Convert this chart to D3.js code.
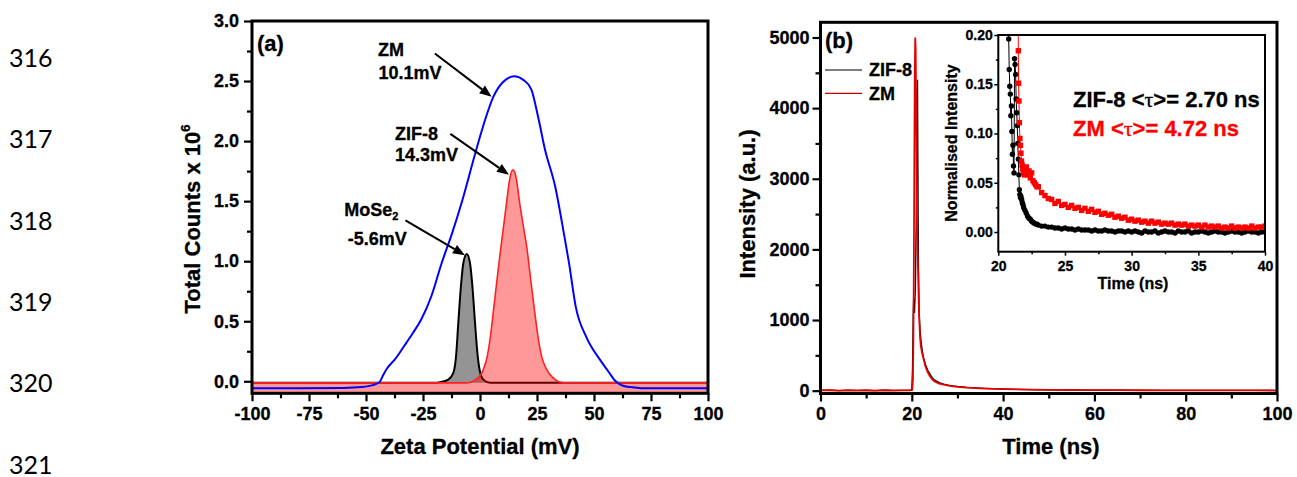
<!DOCTYPE html>
<html>
<head>
<meta charset="utf-8">
<script src="https://cdn.jsdelivr.net/npm/d3@7"></script>
<style>
  body { margin: 0; background: #fff; }
  svg { display: block; font-family: "Liberation Sans", Arial, sans-serif; }
</style>
</head>
<body>
<svg id="fig" width="1297" height="477"></svg>
<script>
// ---- data ----
var lineNumbers = ["316", "317", "318", "319", "320", "321"];

// (a) zeta potential, mV vs total counts x 10^6
var zetaTicks = [-100, -75, -50, -25, 0, 25, 50, 75, 100];
var countTicks = [0, 0.5, 1.0, 1.5, 2.0, 2.5, 3.0];
var zetaZM = [[-100,-0.058],[-80,-0.058],[-60,-0.055],[-52,-0.048],[-47,-0.032],[-44,-0.005],[-42.5,0.05],
  [-41,0.10],[-37,0.19],[-33.4,0.29],[-29.5,0.40],[-25.9,0.51],[-21.3,0.71],[-16.8,0.985],[-12.3,1.23],[-7.7,1.51],
  [-2.5,1.87],[1.3,2.12],[5.9,2.37],[10,2.49],[15,2.54],[19,2.51],[22.5,2.43],[25.5,2.20],[28.5,1.93],
  [33,1.62],[36.8,1.23],[39,0.99],[42,0.62],[46.6,0.37],[52.6,0.18],[56,0.09],[59.5,0.0],[63,-0.04],
  [68,-0.052],[72,-0.058],[100,-0.058]];
var zetaZIF8 = [[-100,-0.013],[-5.8,-0.013],[-0.7,0.03],[1.5,0.10],[3.2,0.21],[4.4,0.35],[6.1,0.62],
  [7.8,0.90],[9.2,1.12],[10.4,1.30],[11.8,1.51],[13,1.68],[14.5,1.76],[16,1.68],[17.2,1.51],[19.5,1.235],
  [20.5,1.12],[21.9,0.90],[23.7,0.62],[25.6,0.35],[27,0.21],[29.2,0.10],[32,0.03],[36.5,-0.013],[100,-0.013]];
var zetaMoSe2 = [[-100,-0.013],[-20,-0.013],[-17.5,-0.008],[-13.9,0.014],[-11.7,0.07],[-10.5,0.21],
  [-9.5,0.49],[-8.5,0.76],[-7.3,0.985],[-5.8,1.06],[-4.4,0.985],[-3.2,0.76],[-2.2,0.49],[-1,0.21],
  [0,0.08],[1.5,0.014],[4.4,-0.013],[35,-0.013],[100,-0.013]];

// (b) decay, ns vs counts
var timeTicks = [0, 20, 40, 60, 80, 100];
var intensityTicks = [0, 1000, 2000, 3000, 4000, 5000];
var decayZIF8 = [[0,3],[2,6],[4,1],[6,5],[8,2],[10,4],[12,1],[14,6],[16,2],[18,4],[19.5,3],[20.0,20],
  [20.15,300],[20.3,1050],[20.4,1300],[20.5,1200],[20.6,1100],[20.8,1500],[21.0,2600],[21.15,3700],
  [21.25,4400],[21.35,3000],[21.45,1800],[21.6,1150],[21.8,870],[22.0,720],[22.3,560],[22.6,460],
  [23.0,370],[23.5,290],[24.0,230],[24.5,185],[25,150],[26,115],[27,92],[28,78],[29,68],[30,60],
  [32,48],[34,40],[36,33],[38,28],[40,24],[43,19],[46,15],[50,12],[55,9],[60,7],[65,6],[70,5],
  [75,4],[80,4],[85,3],[90,3],[95,3],[100,2]];
var decayZM = [[0,4],[2,9],[4,2],[6,7],[8,3],[10,6],[12,2],[14,8],[16,3],[18,5],[19.5,4],[20.1,10],
  [20.25,150],[20.35,700],[20.45,1800],[20.55,3200],[20.65,4500],[20.75,5000],[20.85,4850],[20.95,4000],
  [21.05,3000],[21.15,2300],[21.3,1900],[21.45,1450],[21.6,1050],[21.8,760],[22.0,620],[22.3,520],
  [22.6,440],[23.0,340],[23.5,260],[24.0,200],[24.5,160],[25,130],[26,100],[27,85],[28,72],[29,62],
  [30,54],[32,44],[34,36],[36,30],[38,26],[40,22],[43,18],[46,15],[50,12],[55,10],[60,8],[65,7],
  [70,6],[75,5],[80,5],[85,4],[90,4],[95,3],[100,3]];

// (b) inset, normalised
var insetTimeTicks = [20, 25, 30, 35, 40];
var insetIntTicks = [0, 0.05, 0.10, 0.15, 0.20];
var insetZIF8 = [[20.70,0.420],[20.78,0.196],[20.82,0.165],[20.86,0.148],[20.90,0.140],[20.94,0.118],
  [20.98,0.128],[21.02,0.102],[21.06,0.079],[21.10,0.088],[21.14,0.067],[21.18,0.060],[21.22,0.176],
  [21.26,0.170],[21.30,0.160],[21.34,0.135],[21.38,0.121],[21.42,0.108],[21.46,0.090],[21.50,0.074],
  [21.54,0.058],[21.58,0.043],[21.62,0.038],[21.66,0.035],[21.70,0.036],[21.75,0.033],[21.80,0.030],
  [21.85,0.028],[21.90,0.025],[22.00,0.022],[22.10,0.019],[22.20,0.016],[22.30,0.014],[22.40,0.013],
  [22.50,0.011],[22.60,0.010],[22.70,0.009],[22.80,0.008],[22.90,0.008],
  [23.0,0.007],[23.25,0.006],[23.5,0.006],[23.75,0.005],[24.0,0.005],[24.25,0.004],[24.5,0.004],
  [24.75,0.003],[25.0,0.004],[25.25,0.003],[25.5,0.003],[25.75,0.002],[26.0,0.003],[26.25,0.002],
  [26.5,0.002],[26.75,0.002],[27.0,0.001],[27.25,0.002],[27.5,0.001],[27.75,0.001],[28.0,0.002],
  [28.25,0.001],[28.5,0.001],[28.75,0.000],[29.0,0.001],[29.25,0.001],[29.5,0.000],[29.75,0.001],
  [30.0,0.000],[30.25,0.001],[30.5,0.000],[30.75,-0.001],[31.0,0.001],[31.25,0.000],[31.5,0.000],
  [31.75,0.001],[32.0,-0.001],[32.25,0.000],[32.5,0.001],[32.75,0.000],[33.0,0.000],[33.25,-0.001],
  [33.5,0.001],[33.75,0.000],[34.0,0.000],[34.25,0.001],[34.5,-0.001],[34.75,0.000],[35.0,0.000],
  [35.25,0.001],[35.5,0.000],[35.75,-0.001],[36.0,0.000],[36.25,0.001],[36.5,0.000],[36.75,0.000],
  [37.0,-0.001],[37.25,0.000],[37.5,0.001],[37.75,0.000],[38.0,0.000],[38.25,-0.001],[38.5,0.000],
  [38.75,0.001],[39.0,0.000],[39.25,0.000],[39.5,-0.001],[39.75,0.000],[40.0,0.000]];
var insetZM = [[21.40,0.450],[21.50,0.184],[21.52,0.151],[21.55,0.133],[21.58,0.111],[21.62,0.095],
  [21.66,0.088],[21.70,0.080],[21.74,0.072],[21.78,0.068],[21.82,0.064],[21.86,0.066],[21.90,0.060],
  [21.95,0.058],[22.0,0.063],[22.1,0.066],[22.2,0.058],[22.3,0.062],[22.4,0.055],[22.5,0.060],
  [22.6,0.052],[22.7,0.050],[22.8,0.048],[22.9,0.046],
  [23.0,0.046],[23.25,0.040],[23.5,0.037],[23.75,0.034],[24.0,0.033],[24.25,0.029],[24.5,0.031],
  [24.75,0.027],[25.0,0.028],[25.25,0.025],[25.5,0.027],[25.75,0.024],[26.0,0.025],[26.25,0.022],
  [26.5,0.024],[26.75,0.021],[27.0,0.023],[27.25,0.020],[27.5,0.021],[27.75,0.018],[28.0,0.019],
  [28.25,0.017],[28.5,0.018],[28.75,0.015],[29.0,0.016],[29.25,0.014],[29.5,0.015],[29.75,0.012],
  [30.0,0.013],[30.25,0.011],[30.5,0.012],[30.75,0.010],[31.0,0.011],[31.25,0.009],[31.5,0.011],
  [31.75,0.009],[32.0,0.010],[32.25,0.008],[32.5,0.009],[32.75,0.008],[33.0,0.009],[33.25,0.007],
  [33.5,0.008],[33.75,0.007],[34.0,0.008],[34.25,0.006],[34.5,0.007],[34.75,0.006],[35.0,0.007],
  [35.25,0.005],[35.5,0.007],[35.75,0.005],[36.0,0.006],[36.25,0.005],[36.5,0.006],[36.75,0.004],
  [37.0,0.005],[37.25,0.004],[37.5,0.006],[37.75,0.004],[38.0,0.005],[38.25,0.004],[38.5,0.005],
  [38.75,0.004],[39.0,0.006],[39.25,0.004],[39.5,0.005],[39.75,0.005],[40.0,0.006]];

var svg = d3.select("#fig");
var FONT = '"Liberation Sans", Arial, sans-serif';

// left margin line numbers (manuscript)
svg.selectAll("text.ln").data(lineNumbers).enter().append("text")
  .attr("class", "ln")
  .attr("x", 9)
  .attr("y", function(d, i){ return 67 + i * 81.3; })
  .style("font-family", "Lato, 'Noto Sans', sans-serif")
  .style("font-size", "25px")
  .attr("fill", "#000")
  .text(function(d){ return d; });

function midpoints(arr){
  return d3.pairs(arr, function(a, b){ return (a + b) / 2; });
}
function plain(d){ return String(d); }
function fixed(n){ return function(d){ return d.toFixed(n); }; }

// heavy bold text, a thin outline in the fill colour thickens the glyphs a little
function boldText(sel, size, color){
  color = color || "#000";
  return sel.style("font-family", FONT).style("font-size", size + "px").style("font-weight", "bold")
    .attr("fill", color).attr("stroke", color).attr("stroke-width", 0.3);
}

// axes + box frame, ticks pointing out
function drawFrame(g, x, y, o){
  var x0 = x.range()[0], x1 = x.range()[1], y0 = y.range()[0], y1 = y.range()[1];

  var parts = [
    g.append("g").attr("transform", "translate(0," + y0 + ")")
      .call(d3.axisBottom(x).tickValues(midpoints(o.xTicks)).tickSize(o.minor).tickFormat("")),
    g.append("g").attr("transform", "translate(0," + y0 + ")")
      .call(d3.axisBottom(x).tickValues(o.xTicks).tickSize(o.major).tickPadding(o.xPad).tickFormat(o.xFmt)),
    g.append("g").attr("transform", "translate(" + x0 + ",0)")
      .call(d3.axisLeft(y).tickValues(midpoints(o.yTicks)).tickSize(o.minor).tickFormat("")),
    g.append("g").attr("transform", "translate(" + x0 + ",0)")
      .call(d3.axisLeft(y).tickValues(o.yTicks).tickSize(o.major).tickPadding(o.yPad).tickFormat(o.yFmt))
  ];

  parts.forEach(function(a){
    a.selectAll(".domain").remove();
    a.selectAll("line").attr("stroke", "#000").attr("stroke-width", o.tw);
    boldText(a.selectAll("text"), o.fs);
  });

  g.append("rect")
    .attr("x", x0).attr("y", y1)
    .attr("width", x1 - x0).attr("height", y0 - y1)
    .attr("fill", "none").attr("stroke", "#000").attr("stroke-width", o.fw);
}

function arrow(g, x1, y1, x2, y2){
  var a = Math.atan2(y2 - y1, x2 - x1), L = 12, W = 4.8;
  var bx = x2 - L * Math.cos(a), by = y2 - L * Math.sin(a);
  g.append("line").attr("x1", x1).attr("y1", y1).attr("x2", bx).attr("y2", by)
    .attr("stroke", "#000").attr("stroke-width", 2);
  g.append("polygon")
    .attr("points", [[x2, y2], [bx + W * Math.sin(a), by - W * Math.cos(a)], [bx - W * Math.sin(a), by + W * Math.cos(a)]].join(" "))
    .attr("fill", "#000");
}

// ================= (a) =================
var xA = d3.scaleLinear().domain([-100, 100]).range([252, 708]);
var yA = d3.scaleLinear().domain([-0.1, 3.0]).range([393.3, 21]);
var gA = svg.append("g");

gA.append("clipPath").attr("id", "clipA").append("rect")
  .attr("x", 252).attr("y", 21).attr("width", 456).attr("height", 372.3);
var plotA = gA.append("g").attr("clip-path", "url(#clipA)");

var lineA = d3.line().x(function(d){ return xA(d[0]); }).y(function(d){ return yA(d[1]); }).curve(d3.curveMonotoneX);

var grayArea = d3.area().x(function(d){ return xA(d[0]); })
  .y0(yA(zetaMoSe2[0][1])).y1(function(d){ return yA(d[1]); }).curve(d3.curveMonotoneX);
var redArea = d3.area().x(function(d){ return xA(d[0]); })
  .y0(yA(-0.1)).y1(function(d){ return yA(d[1]); }).curve(d3.curveMonotoneX);

plotA.append("path").datum(zetaMoSe2).attr("d", grayArea).attr("fill", "#000").attr("fill-opacity", 0.42);
plotA.append("path").datum(zetaMoSe2).attr("d", lineA).attr("fill", "none").attr("stroke", "#000").attr("stroke-width", 2);
plotA.append("path").datum(zetaZIF8).attr("d", redArea).attr("fill", "#ff0000").attr("fill-opacity", 0.4);
plotA.append("path").datum(zetaZIF8).attr("d", lineA).attr("fill", "none").attr("stroke", "#ff2020").attr("stroke-width", 1.6);
plotA.append("path").datum(zetaZM).attr("d", lineA).attr("fill", "none").attr("stroke", "#0000ff").attr("stroke-width", 2);

drawFrame(gA, xA, yA, {
  xTicks: zetaTicks, yTicks: countTicks,
  xFmt: plain, yFmt: fixed(1),
  major: 8, minor: 5, tw: 2.2, fw: 3, fs: 18, xPad: 6, yPad: 5
});

// annotations (a)
var annA = gA.append("g");
function ann(txt, x, y){
  return boldText(annA.append("text").attr("x", xA(x)).attr("y", yA(y)).attr("dy", "0.36em"), 18).text(txt);
}
ann("ZM", -44.7, 2.76);
ann("10.1mV", -44.5, 2.575);
ann("ZIF-8", -37.3, 2.065);
ann("14.3mV", -37.3, 1.885);
var mo = ann("", -59.5, 1.43);
mo.append("tspan").text("MoSe");
mo.append("tspan").style("font-size", "11px").attr("dy", "0.35em").text("2");
ann("-5.6mV", -58, 1.19);
arrow(gA, xA(-19.8), yA(2.73), xA(5.1), yA(2.37));
arrow(gA, xA(-13), yA(2.06), xA(12.7), yA(1.72));
arrow(gA, xA(-32.7), yA(1.34), xA(-6.6), yA(1.05));

boldText(gA.append("text").attr("x", 257).attr("y", 51), 22).text("(a)");

var ylabA = boldText(gA.append("text")
  .attr("transform", "translate(200,219) rotate(-90)")
  .attr("text-anchor", "middle"), 22);
ylabA.append("tspan").text("Total Counts x 10");
ylabA.append("tspan").style("font-size", "13px").attr("dy", "-0.75em").text("6");

boldText(gA.append("text").attr("x", 480).attr("y", 454).attr("text-anchor", "middle"), 22)
  .text("Zeta Potential (mV)");

// ================= (b) =================
var xB = d3.scaleLinear().domain([0, 100]).range([820.5, 1277]);
var yB = d3.scaleLinear().domain([-40, 5215]).range([393.5, 22.3]);
var gB = svg.append("g");

gB.append("clipPath").attr("id", "clipB").append("rect")
  .attr("x", 820.5).attr("y", 22.3).attr("width", 456.5).attr("height", 371.2);
var plotB = gB.append("g").attr("clip-path", "url(#clipB)");

var lineB = d3.line().x(function(d){ return xB(d[0]); }).y(function(d){ return yB(d[1]); });
plotB.append("path").datum(decayZIF8).attr("d", lineB).attr("fill", "none").attr("stroke", "#000").attr("stroke-width", 1.3);
plotB.append("path").datum(decayZM).attr("d", lineB).attr("fill", "none").attr("stroke", "#e80000").attr("stroke-width", 1.8);

drawFrame(gB, xB, yB, {
  xTicks: timeTicks, yTicks: intensityTicks,
  xFmt: plain, yFmt: plain,
  major: 8, minor: 5, tw: 2.2, fw: 3, fs: 18, xPad: 6, yPad: 3
});

boldText(gB.append("text").attr("x", 825).attr("y", 47.5), 22).text("(b)");

// legend
var legB = [{name: "ZIF-8", color: "#000"}, {name: "ZM", color: "#c00000"}];
var lg = gB.selectAll("g.leg").data(legB).enter().append("g").attr("class", "leg")
  .attr("transform", function(d, i){ return "translate(825," + (70 + i * 23.3) + ")"; });
lg.append("line").attr("x1", 0).attr("x2", 37).attr("stroke", function(d){ return d.color; }).attr("stroke-width", 1.2);
boldText(lg.append("text").attr("x", 44).attr("dy", "0.36em"), 18).text(function(d){ return d.name; });

boldText(gB.append("text")
  .attr("transform", "translate(755,204) rotate(-90)")
  .attr("text-anchor", "middle"), 22).text("Intensity (a.u.)");
boldText(gB.append("text").attr("x", 1051).attr("y", 454).attr("text-anchor", "middle"), 22).text("Time (ns)");

// ---- inset ----
var xI = d3.scaleLinear().domain([20, 40]).range([998.3, 1265]);
var yI = d3.scaleLinear().domain([-0.02, 0.2]).range([251.7, 35]);
var gI = gB.append("g");
gI.append("rect").attr("x", 998.3).attr("y", 35).attr("width", 266.7).attr("height", 216.7).attr("fill", "#fff");
gI.append("clipPath").attr("id", "clipI").append("rect")
  .attr("x", 998.3).attr("y", 35).attr("width", 266.7).attr("height", 216.7);
var plotI = gI.append("g").attr("clip-path", "url(#clipI)");

var lineI = d3.line().x(function(d){ return xI(d[0]); }).y(function(d){ return yI(d[1]); });
plotI.append("path").datum(insetZIF8).attr("d", lineI).attr("fill", "none").attr("stroke", "#000").attr("stroke-width", 1);
plotI.append("path").datum(insetZM).attr("d", lineI).attr("fill", "none").attr("stroke", "#ff0000").attr("stroke-width", 1);
plotI.selectAll("circle.zif").data(insetZIF8).enter().append("circle").attr("class", "zif")
  .attr("cx", function(d){ return xI(d[0]); }).attr("cy", function(d){ return yI(d[1]); })
  .attr("r", 2.7).attr("fill", "#000");
plotI.selectAll("rect.zm").data(insetZM).enter().append("rect").attr("class", "zm")
  .attr("x", function(d){ return xI(d[0]) - 2.7; }).attr("y", function(d){ return yI(d[1]) - 2.7; })
  .attr("width", 5.4).attr("height", 5.4).attr("fill", "#ff0000");

drawFrame(gI, xI, yI, {
  xTicks: insetTimeTicks, yTicks: insetIntTicks,
  xFmt: plain, yFmt: fixed(2),
  major: 4, minor: 2.5, tw: 1.5, fw: 2, fs: 14, xPad: 5, yPad: 1.5
});

boldText(gI.append("text")
  .attr("transform", "translate(957,143) rotate(-90)")
  .attr("text-anchor", "middle"), 16).text("Normalised Intensity");
boldText(gI.append("text").attr("x", 1133).attr("y", 289).attr("text-anchor", "middle"), 16).text("Time (ns)");

var lifetimes = [{name: "ZIF-8", tau: "2.70", color: "#000"}, {name: "ZM", tau: "4.72", color: "#ff0000"}];
var lt = gI.selectAll("text.tau").data(lifetimes).enter().append("text").attr("class", "tau")
  .attr("x", 1073).attr("y", function(d, i){ return 99 + i * 28.7; }).attr("dy", "0.36em");
lt.each(function(d){ boldText(d3.select(this), 22, d.color); });
lt.append("tspan").text(function(d){ return d.name + " <"; });
lt.append("tspan").style("font-family", "'Liberation Serif', serif").style("font-weight", "normal").text("τ");
lt.append("tspan").text(function(d){ return ">= " + d.tau + " ns"; });
</script>
</body>
</html>
